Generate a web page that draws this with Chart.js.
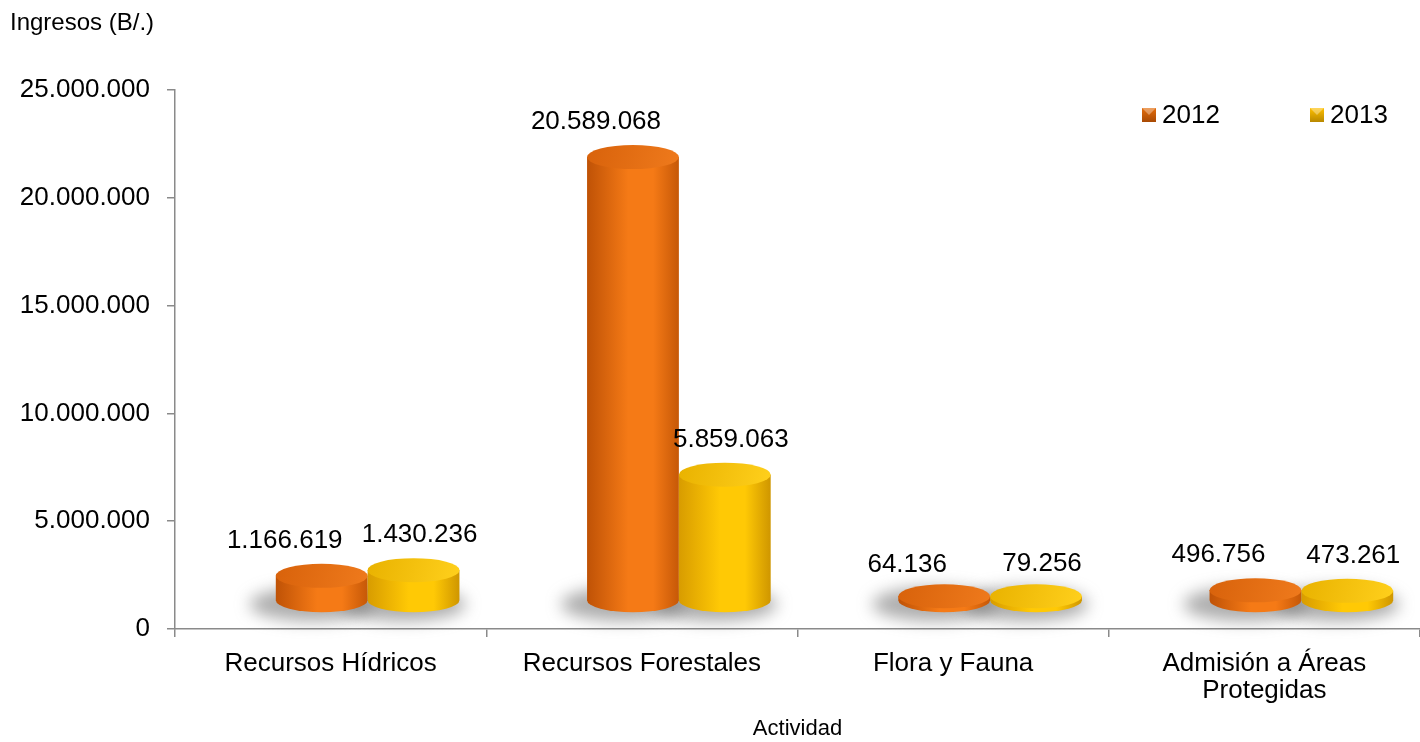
<!DOCTYPE html>
<html>
<head>
<meta charset="utf-8">
<script src="https://cdn.jsdelivr.net/npm/chart.js@4.4.0/dist/chart.umd.min.js"></script>
<style>
html,body{margin:0;padding:0;background:#fff;}
#wrap{width:1420px;height:742px;position:relative;}
</style>
</head>
<body>
<div id="wrap"><canvas id="c"></canvas></div>
<script>
const categories = [['Recursos Hídricos'], ['Recursos Forestales'], ['Flora y Fauna'], ['Admisión a Áreas', 'Protegidas']];
const seriesNames = ['2012', '2013'];
const values2012 = [1166619, 20589068, 64136, 496756];
const values2013 = [1430236, 5859063, 79256, 473261];
const yMin = 0, yMax = 25000000, yStep = 5000000;
const yTitle = 'Ingresos (B/.)';
const xTitle = 'Actividad';

const FONT = "'Liberation Sans', Arial, sans-serif";
const fmt = n => String(Math.round(n)).replace(/\B(?=(\d{3})+(?!\d))/g, '.');

const palettes = [
  {edgeL:'#bf5206', mid:'#f57a16', edgeR:'#c65807', topA:'#d8620b', topB:'#ef7a1c', legend:'#e46c0a', legendDark:'#a84a04'},
  {edgeL:'#d89c00', mid:'#ffc905', edgeR:'#cf9600', topA:'#e9b200', topB:'#ffd01c', legend:'#ffc000', legendDark:'#b88800'}
];

function cylinder(ctx, cx, yTop, yBot, w, ry, p) {
  const l = cx - w / 2, r = cx + w / 2;
  const g = ctx.createLinearGradient(l, 0, r, 0);
  g.addColorStop(0, p.edgeL);
  g.addColorStop(0.45, p.mid);
  g.addColorStop(0.72, p.mid);
  g.addColorStop(1, p.edgeR);
  ctx.beginPath();
  ctx.moveTo(l, yTop);
  ctx.lineTo(l, yBot);
  ctx.ellipse(cx, yBot, w / 2, ry, 0, Math.PI, 0, true);
  ctx.lineTo(r, yTop);
  ctx.closePath();
  ctx.fillStyle = g;
  ctx.fill();
  const tg = ctx.createLinearGradient(l, yTop - ry, r, yTop + ry);
  tg.addColorStop(0, p.topA);
  tg.addColorStop(1, p.topB);
  ctx.beginPath();
  ctx.ellipse(cx, yTop, w / 2, ry, 0, 0, Math.PI * 2);
  ctx.fillStyle = tg;
  ctx.fill();
}

const cylPlugin = {
  id: 'cyl',
  beforeDatasetDraw() { return false; },
  afterDatasetsDraw(chart) {
    const ctx = chart.ctx;
    const dx = 37, dy = -28, ry = 12;
    ctx.save();
    // shadows
    chart.data.datasets.forEach((ds, i) => {
      chart.getDatasetMeta(i).data.forEach(bar => {
        const p = bar.getProps(['x', 'y', 'base', 'width'], true);
        const cx = p.x + dx - 10, cy = p.base + dy + 4;
        ctx.save();
        ctx.filter = 'blur(8px)';
        ctx.fillStyle = 'rgba(105,105,105,0.55)';
        ctx.beginPath();
        ctx.ellipse(cx, cy, p.width / 2 + 16, ry + 5, 0, 0, Math.PI * 2);
        ctx.fill();
        ctx.restore();
      });
    });
    chart.data.datasets.forEach((ds, i) => {
      chart.getDatasetMeta(i).data.forEach(bar => {
        const p = bar.getProps(['x', 'y', 'base', 'width'], true);
        const yBot = p.base + dy;
        const yTop = Math.min(p.y + dy, yBot - 4);
        cylinder(ctx, p.x + dx, yTop, yBot, p.width, ry, palettes[i]);
      });
    });
    // value labels
    ctx.font = '26px ' + FONT;
    ctx.fillStyle = '#000';
    ctx.textAlign = 'center';
    ctx.textBaseline = 'middle';
    chart.data.datasets.forEach((ds, i) => {
      chart.getDatasetMeta(i).data.forEach((bar, j) => {
        const p = bar.getProps(['x', 'y'], true);
        const lx = p.x + (i === 0 ? 0 : 43);
        const ly = p.y - 63;
        ctx.fillText(fmt(ds.data[j]), lx, ly);
      });
    });
    // y title
    ctx.font = '24px ' + FONT;
    ctx.textAlign = 'left';
    ctx.fillText(yTitle, 10, 23);
    // legend
    const ca = chart.chartArea;
    const ly = ca.top + 25;
    const xs = [ca.right - 278, ca.right - 110];
    chart.data.datasets.forEach((ds, i) => {
      const bx = xs[i], s = 14;
      const pal = palettes[i];
      const g = ctx.createLinearGradient(0, ly - s / 2, 0, ly + s / 2);
      g.addColorStop(0, pal.legend);
      g.addColorStop(1, pal.legendDark);
      ctx.fillStyle = g;
      ctx.fillRect(bx, ly - s / 2, s, s);
      ctx.fillStyle = 'rgba(255,255,255,0.35)';
      ctx.beginPath();
      ctx.moveTo(bx, ly - s / 2); ctx.lineTo(bx + s, ly - s / 2); ctx.lineTo(bx + s / 2, ly); ctx.closePath();
      ctx.fill();
      ctx.fillStyle = '#000';
      ctx.font = '26px ' + FONT;
      ctx.fillText(ds.label, bx + s + 6, ly + 1);
    });
    ctx.restore();
  }
};

new Chart(document.getElementById('c'), {
  type: 'bar',
  data: {
    labels: categories,
    datasets: [
      {label: seriesNames[0], data: values2012, backgroundColor: palettes[0].legend},
      {label: seriesNames[1], data: values2013, backgroundColor: palettes[1].legend}
    ]
  },
  options: {
    responsive: true,
    maintainAspectRatio: false,
    animation: false,
    devicePixelRatio: 1,
    layout: {padding: {top: 90, right: 0, left: 0, bottom: 0}},
    datasets: {bar: {categoryPercentage: 0.59, barPercentage: 1.0}},
    plugins: {legend: {display: false}, tooltip: {enabled: false}, title: {display: false}},
    scales: {
      x: {
        grid: {offset: true, drawOnChartArea: false, tickLength: 8, color: '#8a8a8a', lineWidth: 1.5},
        border: {color: '#8a8a8a', width: 1.5},
        ticks: {color: '#000', font: {family: FONT, size: 26, lineHeight: 1.05}, padding: 13, maxRotation: 0, autoSkip: false},
        title: {display: true, text: xTitle, color: '#000', font: {family: FONT, size: 22}, padding: {top: 4, bottom: 0}},
        afterFit(s) { s.height = 113; }
      },
      y: {
        min: yMin, max: yMax,
        grid: {drawOnChartArea: false, tickLength: 8, color: '#8a8a8a', lineWidth: 1.5},
        border: {color: '#8a8a8a', width: 1.5},
        ticks: {stepSize: yStep, color: '#000', font: {family: FONT, size: 26}, padding: 17, callback: v => fmt(v)},
        afterFit(s) { s.width = 175; }
      }
    }
  },
  plugins: [cylPlugin]
});
</script>
</body>
</html>
